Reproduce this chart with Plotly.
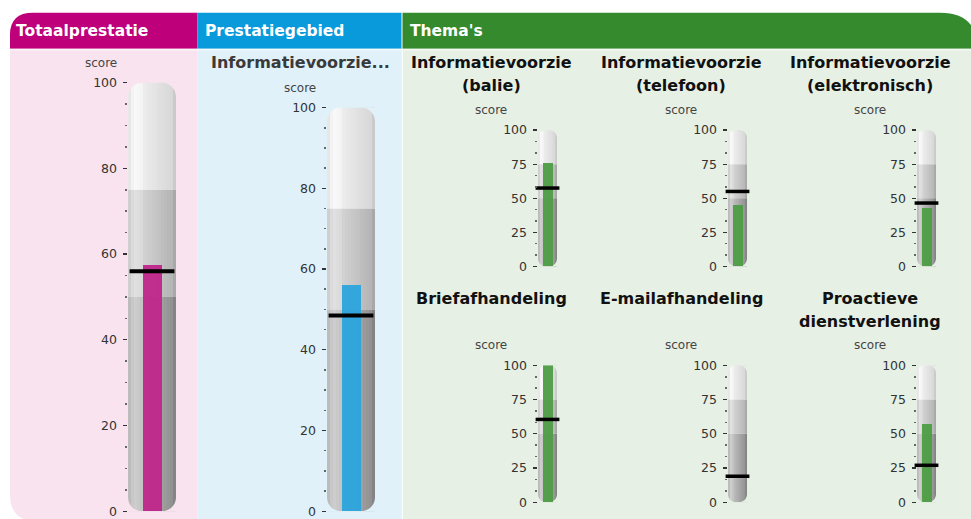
import plotly.graph_objects as go

W, H = 971, 519

# ---------------- data ----------------
section_titles = ["Totaalprestatie", "Prestatiegebied", "Thema's"]
gauge_titles = [
    "",
    "Informatievoorzie...",
    "Informatievoorzie\n(balie)",
    "Informatievoorzie\n(telefoon)",
    "Informatievoorzie\n(elektronisch)",
    "Briefafhandeling",
    "E-mailafhandeling",
    "Proactieve\ndienstverlening",
]
axis_label = "score"
scores = [57.5, 56, 76, 45, 43, 100, 0, 57]
targets = [56, 48.5, 57.5, 55, 46.5, 60.5, 19, 27]
band_edges = [0, 50, 75, 100]
big_tick_step = 20
small_tick_step = 25

# ---------------- styles ----------------
FONT = "DejaVu Sans"
MAG_H, BLUE_H, GREEN_H = "#BE007A", "#089ADB", "#348A2D"
PINK_BG, BLUE_BG, GREEN_BG = "#F8E3EF", "#E1F1FA", "#E7F0E4"
BAR_COLORS = ["#C0268B", "#2CA5DE"] + ["#4E9E46"] * 6
BG = [PINK_BG, BLUE_BG] + [GREEN_BG] * 6

# band colours (bottom -> top): (left gray, right gray)
BAND_SHADE = [(200, 146), (219, 182), (243, 216)]

small_cols = [538, 728, 917]
small_centers = [491, 681, 870]
small_rows = [(129.5, 266), (365, 502)]
small_title_y = [62, 298]
small_score_y = [109, 345]

geo = [
    dict(L=128, R=176, top=82, bot=511, bar=19, tgt=32, tw=4, step=big_tick_step,
         minor=5, r=14, n=16, title=None, score=(101, 62)),
    dict(L=327, R=375, top=107, bot=511, bar=19, tgt=32, tw=4, step=big_tick_step,
         minor=5, r=14, n=16, title=(300, 62), score=(300, 87)),
]
for row in range(2):
    for col in range(3):
        geo.append(dict(L=small_cols[col], R=small_cols[col] + 19,
                        top=small_rows[row][0], bot=small_rows[row][1],
                        bar=10, tgt=17, tw=3.5, step=small_tick_step, minor=25 / 3,
                        r=8, n=10, title=(small_centers[col], small_title_y[row]),
                        score=(small_centers[col], small_score_y[row])))

# vertical placement correction (page framing observed in the viewer)
Y_OFF, Y_SCALE = 7.3, 0.972


def px(x):
    return x / W


def py(y):
    yf = (y - Y_OFF) / Y_SCALE
    return 1 - yf / H


def ppath(cmds):
    out = []
    for c, pts in cmds:
        s = c + " " + " ".join(f"{px(x):.5f},{py(y):.5f}" for x, y in pts)
        out.append(s)
    return " ".join(out) + " Z"


shapes = []
# container pieces
shapes.append(dict(type="path", xref="paper", yref="paper", layer="below", line=dict(width=0),
                   fillcolor=MAG_H,
                   path=ppath([("M", [(10, 48)]), ("L", [(10, 34)]), ("Q", [(10, 12), (33, 12)]),
                               ("L", [(197.5, 12)]), ("L", [(197.5, 48)])])))
shapes.append(dict(type="rect", xref="paper", yref="paper", layer="below", line=dict(width=0),
                   fillcolor=BLUE_H, x0=px(197.5), x1=px(401.5), y0=py(48), y1=py(12)))
shapes.append(dict(type="path", xref="paper", yref="paper", layer="below", line=dict(width=0),
                   fillcolor=GREEN_H,
                   path=ppath([("M", [(402.5, 48)]), ("L", [(402.5, 12)]), ("L", [(940, 12)]),
                               ("Q", [(978, 12), (978, 50)]), ("L", [(978, 48)])])))
shapes.append(dict(type="path", xref="paper", yref="paper", layer="below", line=dict(width=0),
                   fillcolor=PINK_BG,
                   path=ppath([("M", [(10, 48)]), ("L", [(197.5, 48)]), ("L", [(197.5, 540)]),
                               ("L", [(37, 540)]), ("L", [(37, 521)]),
                               ("Q", [(10, 521), (10, 494)])])))
shapes.append(dict(type="rect", xref="paper", yref="paper", layer="below", line=dict(width=0),
                   fillcolor=BLUE_BG, x0=px(197.5), x1=px(401.8), y0=py(540), y1=py(48)))
shapes.append(dict(type="rect", xref="paper", yref="paper", layer="below", line=dict(width=0),
                   fillcolor=GREEN_BG, x0=px(402.8), x1=px(978), y0=py(540), y1=py(48)))
shapes.append(dict(type="line", xref="paper", yref="paper", layer="below",
                   line=dict(width=1.5, color="rgba(255,255,255,0.55)"),
                   x0=px(10), x1=px(978), y0=py(49), y1=py(49)))

annotations = []
for txt, x in zip(section_titles, [14, 203, 408]):
    annotations.append(dict(text=txt, x=px(x), y=py(30), xref="paper", yref="paper",
                            xanchor="left", yanchor="middle", showarrow=False,
                            font=dict(family=FONT, size=15.5, color="white", weight="bold")))

fig = go.Figure()


def shade(base_l, base_r, t):
    v = base_l + (base_r - base_l) * max(0.0, min(1.0, (t - 0.15) / 0.75))
    if 0.1 < t < 0.3:
        v += 6
    if t < 0.07:
        v -= 12
    if t > 0.93:
        v -= 14
    v = int(max(0, min(255, v)))
    return f"rgb({v},{v},{v})"


for i, g in enumerate(geo):
    n = i + 1
    xa = "x" if n == 1 else f"x{n}"
    ya = "y" if n == 1 else f"y{n}"
    xk = "xaxis" if n == 1 else f"xaxis{n}"
    yk = "yaxis" if n == 1 else f"yaxis{n}"
    tube_w = g["R"] - g["L"]
    ppu = (g["bot"] - g["top"]) / 100.0

    fig.update_layout(**{
        xk: dict(domain=[px(g["L"]), px(g["R"])], range=[0, 1], visible=False,
                 fixedrange=True, anchor=ya),
        yk: dict(domain=[py(g["bot"]), py(g["top"])], range=[0, 100], anchor="free",
                 position=px(g["L"] - 1.5), showgrid=False, zeroline=False, showline=False,
                 ticks="outside", ticklen=4, tickwidth=1.2, tickcolor="#333",
                 tick0=0, dtick=g["step"], ticklabelstandoff=3,
                 tickfont=dict(family=FONT, size=12.5, color="#333"),
                 minor=dict(ticks="outside", ticklen=2, tickwidth=1.5, tickcolor="#666",
                            tick0=0, dtick=g["minor"]),
                 fixedrange=True),
    })

    # tube bands as shaded strips
    N = g["n"]
    for b in range(len(band_edges) - 1):
        lo, hi = band_edges[b], band_edges[b + 1]
        bl, br = BAND_SHADE[b]
        for k in range(N):
            t = (k + 0.5) / N
            shapes.append(dict(type="rect", xref=xa, yref=ya, layer="below",
                               line=dict(width=0), fillcolor=shade(bl, br, t),
                               x0=k / N, x1=min(1, (k + 1) / N + 0.03), y0=lo, y1=hi))
    # rounded ends: corner masks in panel colour
    rx = g["r"] / tube_w
    ry = g["r"] / ppu
    kc = 0.552
    for (cx, cy, sx, sy) in [(0, 100, 1, -1), (1, 100, -1, -1), (0, 0, 1, 1), (1, 0, -1, 1)]:
        ax, ay = cx + sx * rx, cy
        bx, by = cx, cy + sy * ry
        c1x, c1y = cx + sx * rx * (1 - kc), cy
        c2x, c2y = cx, cy + sy * ry * (1 - kc)
        p = (f"M {cx},{cy} L {ax},{ay} C {c1x},{c1y} {c2x},{c2y} {bx},{by} Z")
        shapes.append(dict(type="path", xref=xa, yref=ya, layer="below",
                           line=dict(width=0), fillcolor=BG[i], path=p))

    fig.add_trace(go.Bar(x=[0.5], y=[scores[i]], width=g["bar"] / tube_w, xaxis=xa, yaxis=ya,
                         marker=dict(color=BAR_COLORS[i], line=dict(width=0)), opacity=0.95,
                         showlegend=False, hoverinfo="skip"))
    fig.add_trace(go.Scatter(x=[0.5], y=[targets[i]], mode="markers", xaxis=xa, yaxis=ya,
                             marker=dict(symbol="line-ew", size=g["tgt"],
                                         line=dict(width=g["tw"], color="black")),
                             cliponaxis=False, showlegend=False, hoverinfo="skip"))

    # titles
    if g["title"] is not None and gauge_titles[i]:
        tx, ty = g["title"]
        color = "#3A3A3A" if i == 1 else "#111111"
        for j, line in enumerate(gauge_titles[i].split("\n")):
            annotations.append(dict(text=line, x=px(tx), y=py(ty + 23 * j), xref="paper",
                                    yref="paper", xanchor="center", yanchor="middle",
                                    showarrow=False,
                                    font=dict(family=FONT, size=16, color=color, weight="bold")))
    sx_, sy_ = g["score"]
    annotations.append(dict(text=axis_label, x=px(sx_), y=py(sy_), xref="paper", yref="paper",
                            xanchor="center", yanchor="middle", showarrow=False,
                            font=dict(family=FONT, size=12, color="#444")))

fig.update_layout(width=W, height=H, margin=dict(l=0, r=0, t=0, b=0),
                  paper_bgcolor="white", plot_bgcolor="rgba(0,0,0,0)",
                  shapes=shapes, annotations=annotations, hovermode=False,
                  showlegend=False, bargap=0)

page_bg = ("linear-gradient(#ffffff,#ffffff) top left / 100% 50% no-repeat, "
           "linear-gradient(to right, #ffffff 0px, #ffffff 10px, " + PINK_BG + " 10px, "
           + PINK_BG + " 197.5px, " + BLUE_BG + " 197.5px, " + BLUE_BG + " 402px, "
           + GREEN_BG + " 402px, " + GREEN_BG + " 100%)")

fig.write_html(
    "out.html",
    config={"displayModeBar": False, "staticPlot": True},
    post_script=("var de=document.documentElement, bd=document.body;"
                 "de.style.margin='0';bd.style.margin='0';bd.style.padding='0';"
                 "bd.style.overflow='hidden';"
                 "de.style.background='" + page_bg + "';"),
)
